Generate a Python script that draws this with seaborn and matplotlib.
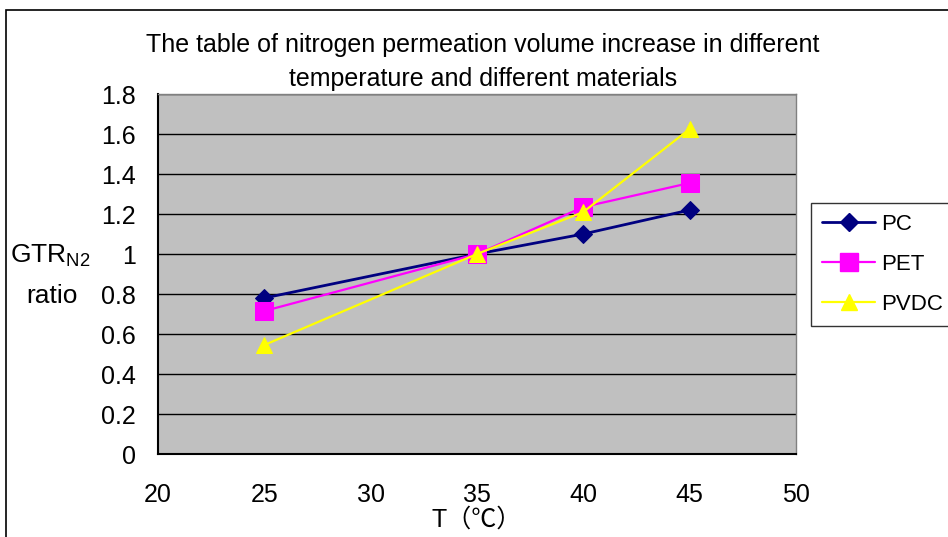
import matplotlib
matplotlib.use("Agg")
import matplotlib.pyplot as plt
import seaborn as sns
import pandas as pd
from matplotlib.patches import Rectangle
from matplotlib.lines import Line2D

temps = [25, 35, 40, 45]
pc = [0.78, 1.00, 1.10, 1.22]
pet = [0.715, 1.00, 1.235, 1.355]
pvdc = [0.545, 1.00, 1.21, 1.625]
series_names = ["PC", "PET", "PVDC"]
x_ticks = [20, 25, 30, 35, 40, 45, 50]
y_ticks = [0, 0.2, 0.4, 0.6, 0.8, 1, 1.2, 1.4, 1.6, 1.8]
y_tick_labels = ["0", "0.2", "0.4", "0.6", "0.8", "1", "1.2", "1.4", "1.6", "1.8"]

df = pd.DataFrame({
    "T": temps * 3,
    "ratio": pc + pet + pvdc,
    "material": sum([[n] * len(temps) for n in series_names], []),
})

sns.set_theme(style="white")
plt.rcParams["font.family"] = ["Liberation Sans", "Noto Sans CJK SC", "DejaVu Sans"]
plt.rcParams["text.color"] = "black"
plt.rcParams["xtick.color"] = "black"
plt.rcParams["ytick.color"] = "black"
plt.rcParams["axes.labelcolor"] = "black"

fig = plt.figure(figsize=(9.48, 5.37), dpi=100)
ax = fig.add_axes([158 / 948, 1 - 454 / 537, (796 - 158) / 948, (454 - 94) / 537])

colors = {"PC": "#000080", "PET": "#FF00FF", "PVDC": "#FFFF00"}
markers = {"PC": "D", "PET": "s", "PVDC": "^"}
msizes = {"PC": 9, "PET": 12.5, "PVDC": 12}
lws = {"PC": 2.0, "PET": 1.6, "PVDC": 1.6}

for name in series_names:
    sub = df[df["material"] == name]
    sns.lineplot(data=sub, x="T", y="ratio", ax=ax, color=colors[name],
                 marker=markers[name], markersize=msizes[name],
                 markeredgecolor=colors[name], linewidth=lws[name],
                 label=name, legend=False, zorder=3)

ax.set_facecolor("#C0C0C0")
ax.set_xlim(20, 50)
ax.set_ylim(0, 1.8)
ax.set_xticks(x_ticks)
ax.set_xticklabels([str(v) for v in x_ticks])
ax.set_yticks(y_ticks)
ax.set_yticklabels(y_tick_labels)
ax.grid(axis="y", color="black", linewidth=1.0)
ax.grid(axis="x", visible=False)
ax.set_axisbelow(True)
for side in ["top", "right"]:
    ax.spines[side].set_color("#808080")
    ax.spines[side].set_linewidth(1.0)
for side in ["left", "bottom"]:
    ax.spines[side].set_color("black")
    ax.spines[side].set_linewidth(1.5)
ax.tick_params(axis="x", direction="in", length=6, width=1, color="black",
               pad=21, labelsize=18)
ax.tick_params(axis="y", direction="in", length=6, width=1, color="black",
               pad=16, labelsize=18)
ax.set_xlabel("")
ax.set_ylabel("")

fig.text(477 / 948, 1 - 520 / 537, "T（℃）", ha="center", va="center", fontsize=18)
fig.text(50 / 948, 1 - 256 / 537, r"GTR$_{\mathregular{N2}}$", ha="center", va="center", fontsize=19)
fig.text(52 / 948, 1 - 296 / 537, "ratio", ha="center", va="center", fontsize=19)
fig.text(483 / 948, 1 - 62 / 537,
         "The table of nitrogen permeation volume increase in different\ntemperature and different materials",
         ha="center", va="center", fontsize=18, linespacing=1.5)

# outer chart frame
fig.patches.append(Rectangle((6 / 948, -0.01), 1.0, 1 - 10 / 537 + 0.01,
                             transform=fig.transFigure, fill=False,
                             edgecolor="black", linewidth=1.2))

handles = [Line2D([0], [0], color=colors[n], marker=markers[n], markersize=msizes[n],
                  markeredgecolor=colors[n], linewidth=lws[n]) for n in series_names]
leg = fig.legend(handles, series_names, loc="upper left",
                 bbox_to_anchor=(811 / 948, 1 - 203 / 537),
                 frameon=True, fancybox=False, fontsize=16, handlelength=2.4,
                 borderpad=0.5, labelspacing=0.85, handletextpad=0.25,
                 borderaxespad=0)
leg.get_frame().set_edgecolor("black")
leg.get_frame().set_linewidth(1.0)

fig.savefig("out.png", dpi=100)
